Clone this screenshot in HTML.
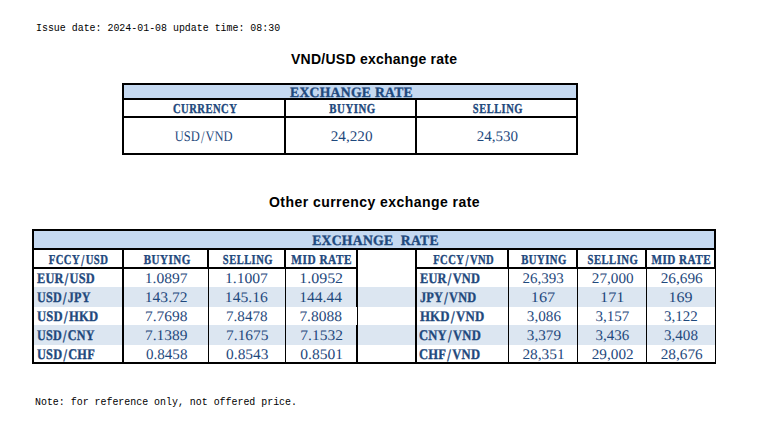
<!DOCTYPE html>
<html><head><meta charset="utf-8"><style>
html,body{margin:0;padding:0;background:#fff;}
body{width:779px;height:435px;position:relative;overflow:hidden;}
body>div{position:absolute;}
.mono{font-family:"Liberation Mono",monospace;font-size:11px;letter-spacing:0px;color:#000;white-space:pre;line-height:14px;transform:scaleX(0.902);transform-origin:left;-webkit-text-stroke:0px #000;}
.title{font-family:"Liberation Sans",sans-serif;font-weight:bold;font-size:14px;color:#000;white-space:pre;line-height:16px;}
.t{text-rendering:geometricPrecision;font-family:"Liberation Serif",serif;color:#1f497d;white-space:pre;line-height:20px;}
.t span{display:inline-block;}
.t span.sl{margin:0 1.3px;transform:translateY(1px) scaleY(1.2);}
.band,.hdr,.pair{font-weight:bold;-webkit-text-stroke:0.35px #1f497d;}
</style></head><body>
<div class="mono" style="left:36px;top:21px;">Issue date: 2024-01-08 update time: 08:30</div>
<div class="title" style="left:291px;top:51px;letter-spacing:0.25px">VND/USD exchange rate</div>
<div class="title" style="left:269px;top:194px;letter-spacing:0.45px">Other currency exchange rate</div>
<div style="left:122px;top:83px;width:456px;height:72px;background:#000"></div>
<div style="left:124px;top:85px;width:452px;height:13px;background:#c5d9f1"></div>
<div style="left:124px;top:100px;width:160px;height:16px;background:#fff"></div>
<div style="left:124px;top:118px;width:160px;height:35px;background:#fff"></div>
<div style="left:286px;top:100px;width:129px;height:16px;background:#fff"></div>
<div style="left:286px;top:118px;width:129px;height:35px;background:#fff"></div>
<div style="left:417px;top:100px;width:159px;height:16px;background:#fff"></div>
<div style="left:417px;top:118px;width:159px;height:35px;background:#fff"></div>
<div class="t band" id="t_band" style="left:124px;top:82.5px;width:452px;text-align:center;font-size:14.2px;letter-spacing:0.3px"><span style="transform:translate(1.60px,0px) scaleX(0.9624) scaleY(1);transform-origin:center">EXCHANGE RATE</span></div>
<div class="t hdr" id="t_cur" style="left:124px;top:99px;width:160px;text-align:center;font-size:13.6px;letter-spacing:0.6px"><span style="transform:translate(0.85px,0px) scaleX(0.7804) scaleY(1);transform-origin:center">CURRENCY</span></div>
<div class="t num" id="t_usdvnd" style="left:124px;top:126.8px;width:160px;text-align:center;font-size:14.7px;letter-spacing:0px"><span style="transform:translate(-0.25px,0px) scaleX(0.8526) scaleY(1);transform-origin:center">USD<span class="sl">/</span>VND</span></div>
<div class="t hdr" id="t_buy" style="left:286px;top:99px;width:129px;text-align:center;font-size:13.6px;letter-spacing:0.6px"><span style="transform:translate(1.50px,0px) scaleX(0.7974) scaleY(1);transform-origin:center">BUYING</span></div>
<div class="t num" id="t_24220" style="left:286px;top:126.8px;width:129px;text-align:center;font-size:14.7px;letter-spacing:0px"><span style="transform:translate(1.45px,0px) scaleX(1.0361) scaleY(1);transform-origin:center">24,220</span></div>
<div class="t hdr" id="t_sell" style="left:417px;top:99px;width:159px;text-align:center;font-size:13.6px;letter-spacing:0.6px"><span style="transform:translate(1.55px,0px) scaleX(0.7735) scaleY(1);transform-origin:center">SELLING</span></div>
<div class="t num" id="t_24530" style="left:417px;top:126.8px;width:159px;text-align:center;font-size:14.7px;letter-spacing:0px"><span style="transform:translate(1.15px,0px) scaleX(1.0225) scaleY(1);transform-origin:center">24,530</span></div>
<div style="left:32px;top:229px;width:684px;height:135px;background:#000"></div>
<div style="left:34px;top:231px;width:680px;height:17px;background:#c5d9f1"></div>
<div style="left:34px;top:250px;width:88px;height:17px;background:#fff"></div>
<div style="left:124px;top:250px;width:83px;height:17px;background:#fff"></div>
<div style="left:209px;top:250px;width:75px;height:17px;background:#fff"></div>
<div style="left:286px;top:250px;width:70px;height:17px;background:#fff"></div>
<div style="left:358px;top:250px;width:57px;height:19px;background:#fff"></div>
<div style="left:417px;top:250px;width:90px;height:17px;background:#fff"></div>
<div style="left:509px;top:250px;width:67px;height:17px;background:#fff"></div>
<div style="left:578px;top:250px;width:67px;height:17px;background:#fff"></div>
<div style="left:647px;top:250px;width:67px;height:17px;background:#fff"></div>
<div style="left:34px;top:269px;width:88px;height:18px;background:#fff"></div>
<div style="left:124px;top:269px;width:84px;height:18px;background:#fff"></div>
<div style="left:209px;top:269px;width:76px;height:18px;background:#fff"></div>
<div style="left:286px;top:269px;width:70px;height:18px;background:#fff"></div>
<div style="left:358px;top:269px;width:57px;height:18px;background:#fff"></div>
<div style="left:417px;top:269px;width:91px;height:18px;background:#fff"></div>
<div style="left:509px;top:269px;width:68px;height:18px;background:#fff"></div>
<div style="left:578px;top:269px;width:68px;height:18px;background:#fff"></div>
<div style="left:647px;top:269px;width:68px;height:18px;background:#fff"></div>
<div style="left:34px;top:287px;width:88px;height:20px;background:#dce6f1"></div>
<div style="left:124px;top:287px;width:84px;height:20px;background:#dce6f1"></div>
<div style="left:209px;top:287px;width:76px;height:20px;background:#dce6f1"></div>
<div style="left:286px;top:287px;width:70px;height:20px;background:#dce6f1"></div>
<div style="left:358px;top:287px;width:57px;height:20px;background:#dce6f1"></div>
<div style="left:417px;top:287px;width:91px;height:20px;background:#dce6f1"></div>
<div style="left:509px;top:287px;width:68px;height:20px;background:#dce6f1"></div>
<div style="left:578px;top:287px;width:68px;height:20px;background:#dce6f1"></div>
<div style="left:647px;top:287px;width:68px;height:20px;background:#dce6f1"></div>
<div style="left:34px;top:307px;width:88px;height:18px;background:#fff"></div>
<div style="left:124px;top:307px;width:84px;height:18px;background:#fff"></div>
<div style="left:209px;top:307px;width:76px;height:18px;background:#fff"></div>
<div style="left:286px;top:307px;width:71px;height:18px;background:#fff"></div>
<div style="left:358px;top:307px;width:57px;height:18px;background:#fff"></div>
<div style="left:417px;top:307px;width:91px;height:18px;background:#fff"></div>
<div style="left:509px;top:307px;width:68px;height:18px;background:#fff"></div>
<div style="left:578px;top:307px;width:68px;height:18px;background:#fff"></div>
<div style="left:647px;top:307px;width:68px;height:18px;background:#fff"></div>
<div style="left:34px;top:325px;width:88px;height:20px;background:#dce6f1"></div>
<div style="left:124px;top:325px;width:84px;height:20px;background:#dce6f1"></div>
<div style="left:209px;top:325px;width:76px;height:20px;background:#dce6f1"></div>
<div style="left:286px;top:325px;width:70px;height:20px;background:#dce6f1"></div>
<div style="left:358px;top:325px;width:57px;height:20px;background:#dce6f1"></div>
<div style="left:417px;top:325px;width:91px;height:20px;background:#dce6f1"></div>
<div style="left:509px;top:325px;width:68px;height:20px;background:#dce6f1"></div>
<div style="left:578px;top:325px;width:68px;height:20px;background:#dce6f1"></div>
<div style="left:647px;top:325px;width:68px;height:20px;background:#dce6f1"></div>
<div style="left:34px;top:345px;width:88px;height:17px;background:#fff"></div>
<div style="left:124px;top:345px;width:84px;height:17px;background:#fff"></div>
<div style="left:209px;top:345px;width:76px;height:17px;background:#fff"></div>
<div style="left:286px;top:345px;width:70px;height:17px;background:#fff"></div>
<div style="left:358px;top:345px;width:57px;height:17px;background:#fff"></div>
<div style="left:417px;top:345px;width:91px;height:17px;background:#fff"></div>
<div style="left:509px;top:345px;width:68px;height:17px;background:#fff"></div>
<div style="left:578px;top:345px;width:68px;height:17px;background:#fff"></div>
<div style="left:647px;top:345px;width:68px;height:17px;background:#fff"></div>
<div class="t band" id="b_band" style="left:34px;top:230.5px;width:680px;text-align:center;font-size:14.2px;letter-spacing:0.3px"><span style="transform:translate(1.70px,0px) scaleX(0.9627) scaleY(1);transform-origin:center">EXCHANGE&nbsp; RATE</span></div>
<div class="t hdr" id="h0" style="left:34px;top:250px;width:88px;text-align:center;font-size:13.6px;letter-spacing:0.6px"><span style="transform:translate(0.45px,0px) scaleX(0.7842) scaleY(1);transform-origin:center">FCCY<span class="sl">/</span>USD</span></div>
<div class="t hdr" id="h1" style="left:124px;top:250px;width:83px;text-align:center;font-size:13.6px;letter-spacing:0.6px"><span style="transform:translate(1.20px,0px) scaleX(0.8106) scaleY(1);transform-origin:center">BUYING</span></div>
<div class="t hdr" id="h2" style="left:209px;top:250px;width:75px;text-align:center;font-size:13.6px;letter-spacing:0.6px"><span style="transform:translate(1.55px,0px) scaleX(0.7735) scaleY(1);transform-origin:center">SELLING</span></div>
<div class="t hdr" id="h3" style="left:286px;top:250px;width:70px;text-align:center;font-size:13.6px;letter-spacing:0.6px"><span style="transform:translate(-0.80px,0px) scaleX(0.8319) scaleY(1);transform-origin:center">MID RATE</span></div>
<div class="t hdr" id="h5" style="left:417px;top:250px;width:90px;text-align:center;font-size:13.6px;letter-spacing:0.6px"><span style="transform:translate(1.50px,0px) scaleX(0.7792) scaleY(1);transform-origin:center">FCCY<span class="sl">/</span>VND</span></div>
<div class="t hdr" id="h6" style="left:509px;top:250px;width:67px;text-align:center;font-size:13.6px;letter-spacing:0.6px"><span style="transform:translate(1.00px,0px) scaleX(0.7867) scaleY(1);transform-origin:center">BUYING</span></div>
<div class="t hdr" id="h7" style="left:578px;top:250px;width:67px;text-align:center;font-size:13.6px;letter-spacing:0.6px"><span style="transform:translate(1.55px,0px) scaleX(0.7832) scaleY(1);transform-origin:center">SELLING</span></div>
<div class="t hdr" id="h8" style="left:647px;top:250px;width:67px;text-align:center;font-size:13.6px;letter-spacing:0.6px"><span style="transform:translate(-2.15px,0px) scaleX(0.8210) scaleY(1);transform-origin:center">MID RATE</span></div>
<div class="t pair" id="d0_0" style="left:36px;top:268.7px;width:88px;text-align:left;font-size:14.7px;letter-spacing:0.3px"><span style="transform:translate(0.90px,0px) scaleX(0.8398) scaleY(1);transform-origin:left">EUR<span class="sl">/</span>USD</span></div>
<div class="t num" id="d0_1" style="left:124px;top:268.7px;width:83px;text-align:center;font-size:14.7px;letter-spacing:0px"><span style="transform:translate(1.00px,0px) scaleX(1.0607) scaleY(1);transform-origin:center">1.0897</span></div>
<div class="t num" id="d0_2" style="left:209px;top:268.7px;width:75px;text-align:center;font-size:14.7px;letter-spacing:0px"><span style="transform:translate(0.20px,0px) scaleX(1.0641) scaleY(1);transform-origin:center">1.1007</span></div>
<div class="t num" id="d0_3" style="left:286px;top:268.7px;width:70px;text-align:center;font-size:14.7px;letter-spacing:0px"><span style="transform:translate(-0.05px,0px) scaleX(1.0872) scaleY(1);transform-origin:center">1.0952</span></div>
<div class="t pair" id="d0_5" style="left:419px;top:268.7px;width:90px;text-align:left;font-size:14.7px;letter-spacing:0.3px"><span style="transform:translate(0.90px,0px) scaleX(0.8417) scaleY(1);transform-origin:left">EUR<span class="sl">/</span>VND</span></div>
<div class="t num" id="d0_6" style="left:509px;top:268.7px;width:67px;text-align:center;font-size:14.7px;letter-spacing:0px"><span style="transform:translate(0.95px,0px) scaleX(1.0233) scaleY(1);transform-origin:center">26,393</span></div>
<div class="t num" id="d0_7" style="left:578px;top:268.7px;width:67px;text-align:center;font-size:14.7px;letter-spacing:0px"><span style="transform:translate(1.50px,0px) scaleX(1.0350) scaleY(1);transform-origin:center">27,000</span></div>
<div class="t num" id="d0_8" style="left:647px;top:268.7px;width:67px;text-align:center;font-size:14.7px;letter-spacing:0px"><span style="transform:translate(1.50px,0px) scaleX(1.0421) scaleY(1);transform-origin:center">26,696</span></div>
<div class="t pair" id="d1_0" style="left:36px;top:287.7px;width:88px;text-align:left;font-size:14.7px;letter-spacing:0.3px"><span style="transform:translate(0.90px,0px) scaleX(0.8255) scaleY(1);transform-origin:left">USD<span class="sl">/</span>JPY</span></div>
<div class="t num" id="d1_1" style="left:124px;top:287.7px;width:83px;text-align:center;font-size:14.7px;letter-spacing:0px"><span style="transform:translate(1.00px,0px) scaleX(1.0600) scaleY(1);transform-origin:center">143.72</span></div>
<div class="t num" id="d1_2" style="left:209px;top:287.7px;width:75px;text-align:center;font-size:14.7px;letter-spacing:0px"><span style="transform:translate(0.15px,0px) scaleX(1.0633) scaleY(1);transform-origin:center">145.16</span></div>
<div class="t num" id="d1_3" style="left:286px;top:287.7px;width:70px;text-align:center;font-size:14.7px;letter-spacing:0px"><span style="transform:translate(-0.55px,0px) scaleX(1.0610) scaleY(1);transform-origin:center">144.44</span></div>
<div class="t pair" id="d1_5" style="left:419px;top:287.7px;width:90px;text-align:left;font-size:14.7px;letter-spacing:0.3px"><span style="transform:translate(0.90px,0px) scaleX(0.8376) scaleY(1);transform-origin:left">JPY<span class="sl">/</span>VND</span></div>
<div class="t num" id="d1_6" style="left:509px;top:287.7px;width:67px;text-align:center;font-size:14.7px;letter-spacing:0px"><span style="transform:translate(0.95px,0px) scaleX(1.1080) scaleY(1);transform-origin:center">167</span></div>
<div class="t num" id="d1_7" style="left:578px;top:287.7px;width:67px;text-align:center;font-size:14.7px;letter-spacing:0px"><span style="transform:translate(1.20px,0px) scaleX(1.1114) scaleY(1);transform-origin:center">171</span></div>
<div class="t num" id="d1_8" style="left:647px;top:287.7px;width:67px;text-align:center;font-size:14.7px;letter-spacing:0px"><span style="transform:translate(0.55px,0px) scaleX(1.0910) scaleY(1);transform-origin:center">169</span></div>
<div class="t pair" id="d2_0" style="left:36px;top:306.7px;width:88px;text-align:left;font-size:14.7px;letter-spacing:0.3px"><span style="transform:translate(0.90px,0px) scaleX(0.8596) scaleY(1);transform-origin:left">USD<span class="sl">/</span>HKD</span></div>
<div class="t num" id="d2_1" style="left:124px;top:306.7px;width:83px;text-align:center;font-size:14.7px;letter-spacing:0px"><span style="transform:translate(1.00px,0px) scaleX(1.0532) scaleY(1);transform-origin:center">7.7698</span></div>
<div class="t num" id="d2_2" style="left:209px;top:306.7px;width:75px;text-align:center;font-size:14.7px;letter-spacing:0px"><span style="transform:translate(0.60px,0px) scaleX(1.0273) scaleY(1);transform-origin:center">7.8478</span></div>
<div class="t num" id="d2_3" style="left:286px;top:306.7px;width:70px;text-align:center;font-size:14.7px;letter-spacing:0px"><span style="transform:translate(-0.55px,0px) scaleX(1.0523) scaleY(1);transform-origin:center">7.8088</span></div>
<div class="t pair" id="d2_5" style="left:419px;top:306.7px;width:90px;text-align:left;font-size:14.7px;letter-spacing:0.3px"><span style="transform:translate(0.90px,0px) scaleX(0.8718) scaleY(1);transform-origin:left">HKD<span class="sl">/</span>VND</span></div>
<div class="t num" id="d2_6" style="left:509px;top:306.7px;width:67px;text-align:center;font-size:14.7px;letter-spacing:0px"><span style="transform:translate(1.40px,0px) scaleX(1.0331) scaleY(1);transform-origin:center">3,086</span></div>
<div class="t num" id="d2_7" style="left:578px;top:306.7px;width:67px;text-align:center;font-size:14.7px;letter-spacing:0px"><span style="transform:translate(0.85px,0px) scaleX(1.0241) scaleY(1);transform-origin:center">3,157</span></div>
<div class="t num" id="d2_8" style="left:647px;top:306.7px;width:67px;text-align:center;font-size:14.7px;letter-spacing:0px"><span style="transform:translate(0.45px,0px) scaleX(1.0221) scaleY(1);transform-origin:center">3,122</span></div>
<div class="t pair" id="d3_0" style="left:36px;top:325.7px;width:88px;text-align:left;font-size:14.7px;letter-spacing:0.3px"><span style="transform:translate(0.90px,0px) scaleX(0.8263) scaleY(1);transform-origin:left">USD<span class="sl">/</span>CNY</span></div>
<div class="t num" id="d3_1" style="left:124px;top:325.7px;width:83px;text-align:center;font-size:14.7px;letter-spacing:0px"><span style="transform:translate(1.00px,0px) scaleX(1.0513) scaleY(1);transform-origin:center">7.1389</span></div>
<div class="t num" id="d3_2" style="left:209px;top:325.7px;width:75px;text-align:center;font-size:14.7px;letter-spacing:0px"><span style="transform:translate(1.10px,0px) scaleX(1.0500) scaleY(1);transform-origin:center">7.1675</span></div>
<div class="t num" id="d3_3" style="left:286px;top:325.7px;width:70px;text-align:center;font-size:14.7px;letter-spacing:0px"><span style="transform:translate(0.45px,0px) scaleX(1.0540) scaleY(1);transform-origin:center">7.1532</span></div>
<div class="t pair" id="d3_5" style="left:419px;top:325.7px;width:90px;text-align:left;font-size:14.7px;letter-spacing:0.3px"><span style="transform:translate(-0.10px,0px) scaleX(0.8578) scaleY(1);transform-origin:left">CNY<span class="sl">/</span>VND</span></div>
<div class="t num" id="d3_6" style="left:509px;top:325.7px;width:67px;text-align:center;font-size:14.7px;letter-spacing:0px"><span style="transform:translate(1.40px,0px) scaleX(1.0331) scaleY(1);transform-origin:center">3,379</span></div>
<div class="t num" id="d3_7" style="left:578px;top:325.7px;width:67px;text-align:center;font-size:14.7px;letter-spacing:0px"><span style="transform:translate(0.85px,0px) scaleX(1.0233) scaleY(1);transform-origin:center">3,436</span></div>
<div class="t num" id="d3_8" style="left:647px;top:325.7px;width:67px;text-align:center;font-size:14.7px;letter-spacing:0px"><span style="transform:translate(0.45px,0px) scaleX(1.0260) scaleY(1);transform-origin:center">3,408</span></div>
<div class="t pair" id="d4_0" style="left:36px;top:344.7px;width:88px;text-align:left;font-size:14.7px;letter-spacing:0.3px"><span style="transform:translate(0.90px,0px) scaleX(0.8393) scaleY(1);transform-origin:left">USD<span class="sl">/</span>CHF</span></div>
<div class="t num" id="d4_1" style="left:124px;top:344.7px;width:83px;text-align:center;font-size:14.7px;letter-spacing:0px"><span style="transform:translate(1.50px,0px) scaleX(1.0263) scaleY(1);transform-origin:center">0.8458</span></div>
<div class="t num" id="d4_2" style="left:209px;top:344.7px;width:75px;text-align:center;font-size:14.7px;letter-spacing:0px"><span style="transform:translate(1.10px,0px) scaleX(1.0497) scaleY(1);transform-origin:center">0.8543</span></div>
<div class="t num" id="d4_3" style="left:286px;top:344.7px;width:70px;text-align:center;font-size:14.7px;letter-spacing:0px"><span style="transform:translate(0.45px,0px) scaleX(1.0566) scaleY(1);transform-origin:center">0.8501</span></div>
<div class="t pair" id="d4_5" style="left:419px;top:344.7px;width:90px;text-align:left;font-size:14.7px;letter-spacing:0.3px"><span style="transform:translate(-0.10px,0px) scaleX(0.8564) scaleY(1);transform-origin:left">CHF<span class="sl">/</span>VND</span></div>
<div class="t num" id="d4_6" style="left:509px;top:344.7px;width:67px;text-align:center;font-size:14.7px;letter-spacing:0px"><span style="transform:translate(1.35px,0px) scaleX(1.0477) scaleY(1);transform-origin:center">28,351</span></div>
<div class="t num" id="d4_7" style="left:578px;top:344.7px;width:67px;text-align:center;font-size:14.7px;letter-spacing:0px"><span style="transform:translate(1.50px,0px) scaleX(1.0368) scaleY(1);transform-origin:center">29,002</span></div>
<div class="t num" id="d4_8" style="left:647px;top:344.7px;width:67px;text-align:center;font-size:14.7px;letter-spacing:0px"><span style="transform:translate(1.50px,0px) scaleX(1.0421) scaleY(1);transform-origin:center">28,676</span></div>
<div class="mono" style="left:35px;top:394.5px;">Note: for reference only, not offered price.</div>
</body></html>
